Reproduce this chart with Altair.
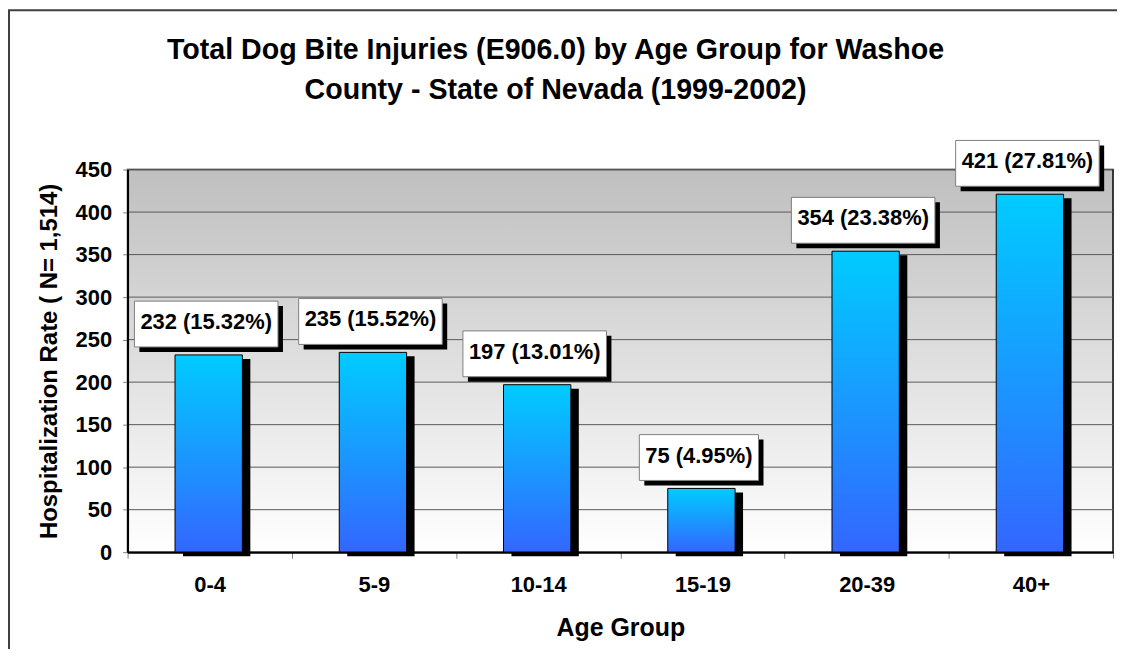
import altair as alt
import pandas as pd

# ---------------- data ----------------
groups = ["0-4", "5-9", "10-14", "15-19", "20-39", "40+"]
counts = [232, 235, 197, 75, 354, 421]
percents = [15.32, 15.52, 13.01, 4.95, 23.38, 27.81]
y_ticks = [0, 50, 100, 150, 200, 250, 300, 350, 400, 450]
title_lines = [
    "Total Dog Bite Injuries (E906.0) by Age Group for Washoe",
    "County - State of Nevada (1999-2002)",
]
y_title = "Hospitalization Rate ( N= 1,514)"
x_title = "Age Group"

# ---------------- helpers ----------------
FONT = "Liberation Sans"
LABEL_SIZE = 22
# Arial/Liberation Sans Bold advance widths (per 1000 em)
CHAR_W = {"(": 333, ")": 333, ".": 278, " ": 278, "%": 889}


def text_width(s, size):
    return sum(CHAR_W.get(c, 556) for c in s) * size / 1000.0


labels = [f"{c} ({p:.2f}%)" for c, p in zip(counts, percents)]
df = pd.DataFrame({
    "group": groups,
    "count": counts,
    "label": labels,
    "boxw": [text_width(l, LABEL_SIZE) + 12 for l in labels],
})
grid_df = pd.DataFrame({"count": y_ticks})

W, H = 989, 384

y_scale = alt.Scale(domain=[0, 450], nice=False)

x_enc = alt.X(
    "group:N",
    sort=groups,
    scale=alt.Scale(paddingInner=0, paddingOuter=0),
    axis=alt.Axis(
        title=x_title,
        titleFont=FONT, titleFontSize=25, titleFontWeight="bold", titleColor="black",
        titleX=W / 2, titleY=84, titleBaseline="alphabetic", titleAlign="center",
        labelAngle=0, labelFont=FONT, labelFontSize=LABEL_SIZE, labelFontWeight="bold",
        labelColor="black", labelPadding=16,
        tickSize=6, tickBand="extent", tickColor="#808080", tickWidth=1,
        domainColor="black", domainWidth=2, grid=False, zindex=1,
    ),
)
y_axis = alt.Axis(
    values=y_ticks,
    title=y_title,
    titleFont=FONT, titleFontSize=24, titleFontWeight="bold", titleColor="black",
    titleX=-71, titleY=H / 2, titleAngle=270, titleBaseline="alphabetic",
    titleAlign="center",
    labelFont=FONT, labelFontSize=LABEL_SIZE, labelFontWeight="bold",
    labelColor="black", labelPadding=11,
    tickSize=5, tickColor="#808080", tickWidth=1,
    domainColor="black", domainWidth=2,
    grid=False, zindex=1,
)
y_enc = alt.Y("count:Q", scale=y_scale, axis=y_axis)

bar_grad = alt.LinearGradient(
    gradient="linear",
    stops=[alt.GradientStop(color="#00CCFF", offset=0),
           alt.GradientStop(color="#3366FF", offset=1)],
    x1=0, x2=0, y1=0, y2=1,
)
bg_grad = alt.LinearGradient(
    gradient="linear",
    stops=[alt.GradientStop(color="#BFBFBF", offset=0),
           alt.GradientStop(color="#FFFFFF", offset=1)],
    x1=0, x2=0, y1=0, y2=1,
)

deco = alt.Chart(alt.Data(values=[{"k": 1}]))

# outer chart-area frame (right/bottom edges fall outside the picture)
frame = deco.mark_rect(fill="white", fillOpacity=0, stroke="#404040", strokeWidth=2).encode(
    x=alt.value(-119), x2=alt.value(W + 60), y=alt.value(-160), y2=alt.value(H + 200)
)

plot_bg = deco.mark_rect(fill=bg_grad, stroke="black", strokeWidth=1.5).encode(
    x=alt.value(0), x2=alt.value(W), y=alt.value(0), y2=alt.value(H)
)

gridlines = alt.Chart(grid_df).mark_rule(color="#5a5a5a", strokeWidth=1).encode(
    y=y_enc
)

base = alt.Chart(df)

bar_shadow = base.mark_bar(color="black", width={"band": 0.41}, xOffset=7, yOffset=4).encode(
    x=x_enc, y=y_enc
)
bars = base.mark_bar(
    fill=bar_grad, stroke="black", strokeWidth=1, width={"band": 0.41}, xOffset=-1
).encode(x=x_enc, y=y_enc)

box_shadow = base.mark_bar(color="black", xOffset=1.5, yOffset=-49, y2Offset=-3).encode(
    x=x_enc, y=y_enc, y2=alt.Y2("count:Q"), size=alt.Size("boxw:Q", scale=None, legend=None)
)
boxes = base.mark_bar(
    fill="white", stroke="#808080", strokeWidth=1, xOffset=-3.5, yOffset=-54, y2Offset=-8
).encode(
    x=x_enc, y=y_enc, y2=alt.Y2("count:Q"), size=alt.Size("boxw:Q", scale=None, legend=None)
)
texts = base.mark_text(
    font=FONT, fontSize=LABEL_SIZE, fontWeight="bold", color="black",
    align="center", baseline="alphabetic", dx=-3.5, dy=-26,
).encode(x=x_enc, y=y_enc, text="label:N")

title1 = deco.mark_text(
    font=FONT, fontSize=28.7, fontWeight="bold", color="black", align="center",
    baseline="alphabetic",
).encode(x=alt.value(429.5), y=alt.value(-110.7), text=alt.value(title_lines[0]))
title2 = deco.mark_text(
    font=FONT, fontSize=28.7, fontWeight="bold", color="black", align="center",
    baseline="alphabetic",
).encode(x=alt.value(429.5), y=alt.value(-71.3), text=alt.value(title_lines[1]))

chart = (
    alt.layer(frame, plot_bg, gridlines, bar_shadow, bars, box_shadow, boxes, texts,
              title1, title2)
    .properties(
        width=W, height=H,
        padding={"left": 120, "top": 161, "right": 4, "bottom": 96},
        autosize=alt.AutoSizeParams(type="none"),
        background="white",
    )
    .configure_view(strokeWidth=0)
)

chart.save("out.html", embed_options={"renderer": "svg", "actions": False})
